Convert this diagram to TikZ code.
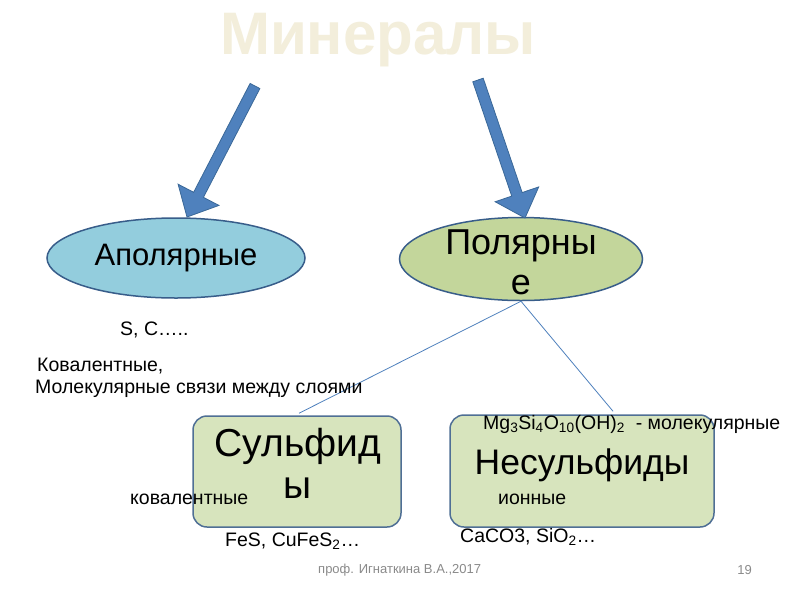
\documentclass[tikz,border=0pt]{standalone}
\usepackage{fontspec}
\setmainfont{Liberation Sans}
\usetikzlibrary{shapes.geometric,calc}
\definecolor{titlec}{HTML}{F3EEDB}
\definecolor{arrowblue}{HTML}{4F81BD}
\definecolor{arrowedge}{HTML}{3A6898}
\definecolor{ellblue}{HTML}{93CDDD}
\definecolor{ellgreen}{HTML}{C3D69B}
\definecolor{ellborder}{HTML}{385D8A}
\definecolor{boxfill}{HTML}{D7E4BD}
\definecolor{boxborder}{HTML}{4F6F95}
\definecolor{linec}{HTML}{4F81BD}
\definecolor{footc}{HTML}{8A8A8A}
\newcommand{\fs}[2]{\fontsize{#1}{#2}\selectfont}
\tikzset{
  blockarr/.style={fill=arrowblue, draw=arrowedge, line width=0.8pt, line join=miter},
  ellnode/.style={ellipse, draw=ellborder, line width=1.5pt, inner sep=0pt},
  boxnode/.style={rectangle, rounded corners=14pt, draw=boxborder, line width=1.5pt, fill=boxfill, inner sep=0pt},
  small/.style={inner sep=0pt, anchor=west, font=\fs{19.5}{22}},
  conn/.style={draw=linec, line width=0.8pt}
}
\begin{document}
\begin{tikzpicture}[x=1pt,y=-1pt]
\useasboundingbox (0,0) rectangle (800,600);
\fill[white] (0,0) rectangle (800,600);
% title
\node[text=titlec, font=\fs{60}{66}\bfseries, inner sep=0pt] (title) at (378,40) {Минералы};
% ellipses
\node[ellnode, fill=ellblue, minimum width=258, minimum height=80, font=\fs{31}{35}] (apol) at (176,258) {Аполярные};
\node[ellnode, fill=ellgreen, minimum width=243, minimum height=83] (pol) at (521,259) {};
\node[align=center, inner sep=0pt, font=\fs{36}{40}] (poltext) at (521,262) {Полярны\\е};
% boxes
\node[boxnode, minimum width=208, minimum height=111] (sulf) at (297,471.5) {};
\node[align=center, inner sep=0pt, font=\fs{39}{42}] (sulftext) at (298,463) {Сульфид\\ы};
\node[boxnode, minimum width=264, minimum height=112] (nes) at (582,471) {};
\node[inner sep=0pt, font=\fs{35.5}{40}] (nestext) at (582,465) {Несульфиды};
% arrows
\coordinate (t1) at (255,86);
\coordinate (p1) at (187,217);
\coordinate (t2) at (478,80);
\coordinate (p2) at (525,218);
\foreach \tl/\tp in {t1/p1,t2/p2}{
  \coordinate (h) at ($(\tp)!25pt!(\tl)$);
  \draw[blockarr] ($(\tl)!5.5pt!90:(\tp)$) -- ($(h)!5.5pt!90:(\tp)$) -- ($(h)!23pt!90:(\tp)$) -- (\tp)
    -- ($(h)!23pt!-90:(\tp)$) -- ($(h)!5.5pt!-90:(\tp)$) -- ($(\tl)!5.5pt!-90:(\tp)$) -- cycle;
}
% connectors
\draw[conn] (pol.south) -- ($(sulf.north)+(2,-2)$);
\draw[conn] (pol.south) -- ($(nes.north)+(31,-3)$);
% texts
\node[small] (sc) at (120,330) {S, C…..};
\node[small] (kov1) at (37,366) {Ковалентные,};
\node[small] (kov2) at (35,389) {Молекулярные связи между слоями};
\node[small] (mg) at (483,424) {Mg\textsubscript{3}Si\textsubscript{4}O\textsubscript{10}(OH)\textsubscript{2}\ \ - молекулярные};
\node[small] (kov3) at (130,499) {ковалентные};
\node[small] (ion) at (498,499) {ионные};
\node[small] (fes) at (225,541) {FeS, CuFeS\textsubscript{2}…};
\node[small] (caco) at (460,537) {CaCO3, SiO\textsubscript{2}…};
% footer
\node[inner sep=0pt, anchor=west, text=footc, font=\fs{13}{15}] (foot) at (318,570) {проф. Игнаткина В.А.,2017};
\node[inner sep=0pt, anchor=east, text=footc, font=\fs{13}{15}] (num) at (752,570) {19};
\end{tikzpicture}
\end{document}
